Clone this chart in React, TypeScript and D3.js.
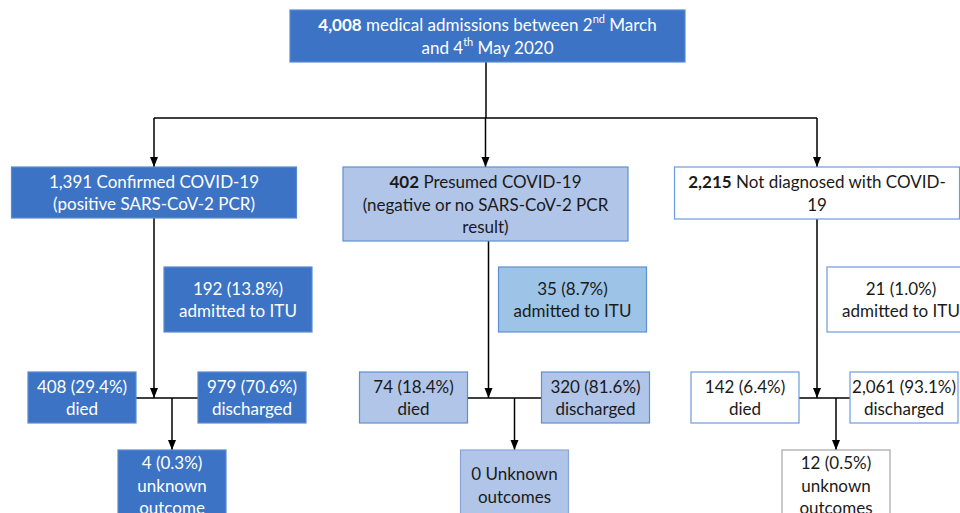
import React from 'react';
import * as d3 from 'd3';

// flowchart values
const totalAdmissions = '4,008';
const groups = ['confirmed', 'presumed', 'notDiagnosed'];
const groupCounts = ['1,391', '402', '2,215'];
const ituCounts = ['192 (13.8%)', '35 (8.7%)', '21 (1.0%)'];
const diedCounts = ['408 (29.4%)', '74 (18.4%)', '142 (6.4%)'];
const dischargedCounts = ['979 (70.6%)', '320 (81.6%)', '2,061 (93.1%)'];
const unknownLines = [
  ['4 (0.3%)', 'unknown', 'outcome'],
  ['0 Unknown', 'outcomes'],
  ['12 (0.5%)', 'unknown', 'outcomes'],
];

type Seg = { t: string; b?: boolean; sup?: boolean };
type Style = { fill: string; stroke: string; text: string };

const topLines: Seg[][] = [
  [{ t: totalAdmissions, b: true }, { t: ' medical admissions between 2' }, { t: 'nd', sup: true }, { t: ' March' }],
  [{ t: 'and 4' }, { t: 'th', sup: true }, { t: ' May 2020' }],
];

const groupLines: Seg[][][] = [
  [[{ t: groupCounts[0] + ' Confirmed COVID-19' }], [{ t: '(positive SARS-CoV-2 PCR)' }]],
  [[{ t: groupCounts[1], b: true }, { t: ' Presumed COVID-19' }], [{ t: '(negative or no SARS-CoV-2 PCR' }], [{ t: 'result)' }]],
  [[{ t: groupCounts[2], b: true }, { t: ' Not diagnosed with COVID-' }], [{ t: '19' }]],
];

// box styles per group
const styles: { main: Style; itu: Style; unk: Style }[] = [
  { main: { fill: '#3c73c4', stroke: '#5a8ad0', text: '#ffffff' }, itu: { fill: '#3c73c4', stroke: '#5a8ad0', text: '#ffffff' }, unk: { fill: '#3c73c4', stroke: '#5a8ad0', text: '#ffffff' } },
  { main: { fill: '#b1c5e8', stroke: '#5f8fd2', text: '#1a1a1a' }, itu: { fill: '#9dc3e6', stroke: '#5f8fd2', text: '#1a1a1a' }, unk: { fill: '#b1c5e8', stroke: '#8aa6d6', text: '#1a1a1a' } },
  { main: { fill: '#ffffff', stroke: '#6c9be0', text: '#1a1a1a' }, itu: { fill: '#ffffff', stroke: '#6c9be0', text: '#1a1a1a' }, unk: { fill: '#ffffff', stroke: '#a6a6a6', text: '#1a1a1a' } },
];

const W = 960;
const H = 513;
const FONT = 'Lato, "Open Sans", sans-serif';
const FS = 17;
const LH = 22.5;

// per-column layout tweaks (offsets from the column centre)
const mainHeights = [51, 74, 52];
const trunkOffset = [0, 3, 0];
const dischargedOffset = [44, 56, 33];
const branchOffset = [18, 29, 19];

const x = d3.scalePoint<string>().domain(groups).range([154, 817]);

function Lines({ lines, cx, cy, color }: { lines: Seg[][]; cx: number; cy: number; color: string }) {
  const y0 = cy - ((lines.length - 1) * LH) / 2;
  return (
    <text x={cx} textAnchor="middle" fontFamily={FONT} fontSize={FS} fill={color}>
      {lines.map((line, i) => (
        <tspan key={i} x={cx} y={y0 + i * LH} dominantBaseline="central">
          {line.map((s, j) =>
            s.sup ? (
              <tspan key={j} fontSize={11} dy={-6}>{s.t}</tspan>
            ) : (
              <tspan key={j} fontWeight={s.b ? 700 : 400} dy={j > 0 && line[j - 1].sup ? 6 : 0}>{s.t}</tspan>
            )
          )}
        </tspan>
      ))}
    </text>
  );
}

function Box({ x0, y0, w, h, st, lines }: { x0: number; y0: number; w: number; h: number; st: Style; lines: Seg[][] }) {
  return (
    <g>
      <rect x={x0} y={y0} width={w} height={h} fill={st.fill} stroke={st.stroke} strokeWidth={1.2} />
      <Lines lines={lines} cx={x0 + w / 2} cy={y0 + h / 2} color={st.text} />
    </g>
  );
}

const plain = (arr: string[]): Seg[][] => arr.map((t) => [{ t }]);

export default function App() {
  const topX = 290;
  const topW = 395;
  const topY = 10;
  const topH = 52;
  const splitY = 118;
  const mainY = 167;
  const mainW = 285;
  const ituY = 267;
  const ituH = 65;
  const outY = 372;
  const outH = 51;
  const lineY = 398;
  const smallW = 108;
  const unkY = 450;
  const unkH = 70;
  const rootX = 486;

  return (
    <svg width={W} height={H} style={{ position: 'absolute', left: 0, top: 0, background: '#fff' }}>
      <defs>
        <marker id="arr" viewBox="0 0 10 10" refX={10} refY={5} markerWidth={7} markerHeight={7} orient="auto">
          <path d="M0,1 L10,5 L0,9 z" fill="#000" />
        </marker>
      </defs>

      {/* connectors */}
      <g stroke="#000" strokeWidth={1.5} fill="none">
        <line x1={rootX} y1={topY + topH} x2={rootX} y2={splitY} />
        <line x1={x(groups[0])!} y1={splitY} x2={x(groups[2])!} y2={splitY} />
        {groups.map((g, i) => {
          const cx = x(g)!;
          const tx = cx + trunkOffset[i];
          const bx = cx + branchOffset[i];
          return (
            <g key={g}>
              <line x1={cx} y1={splitY} x2={cx} y2={mainY} markerEnd="url(#arr)" />
              <line x1={tx} y1={mainY + mainHeights[i]} x2={tx} y2={lineY} markerEnd="url(#arr)" />
              <line x1={cx - 126 + smallW} y1={lineY} x2={cx + dischargedOffset[i]} y2={lineY} />
              <line x1={bx} y1={lineY} x2={bx} y2={unkY} markerEnd="url(#arr)" />
            </g>
          );
        })}
      </g>

      {/* top box */}
      <Box x0={topX} y0={topY} w={topW} h={topH} st={styles[0].main} lines={topLines} />

      {groups.map((g, i) => {
        const cx = x(g)!;
        const st = styles[i];
        const bx = cx + branchOffset[i];
        return (
          <g key={g}>
            <Box x0={cx - mainW / 2} y0={mainY} w={mainW} h={mainHeights[i]} st={st.main} lines={groupLines[i]} />
            <Box x0={cx + 10 + trunkOffset[i]} y0={ituY} w={148} h={ituH} st={st.itu} lines={plain([ituCounts[i], 'admitted to ITU'])} />
            <Box x0={cx - 126} y0={outY} w={smallW} h={outH} st={st.main} lines={plain([diedCounts[i], 'died'])} />
            <Box x0={cx + dischargedOffset[i]} y0={outY} w={smallW} h={outH} st={st.main} lines={plain([dischargedCounts[i], 'discharged'])} />
            <Box x0={bx - smallW / 2} y0={unkY} w={smallW} h={unkH} st={st.unk} lines={plain(unknownLines[i])} />
          </g>
        );
      })}
    </svg>
  );
}
